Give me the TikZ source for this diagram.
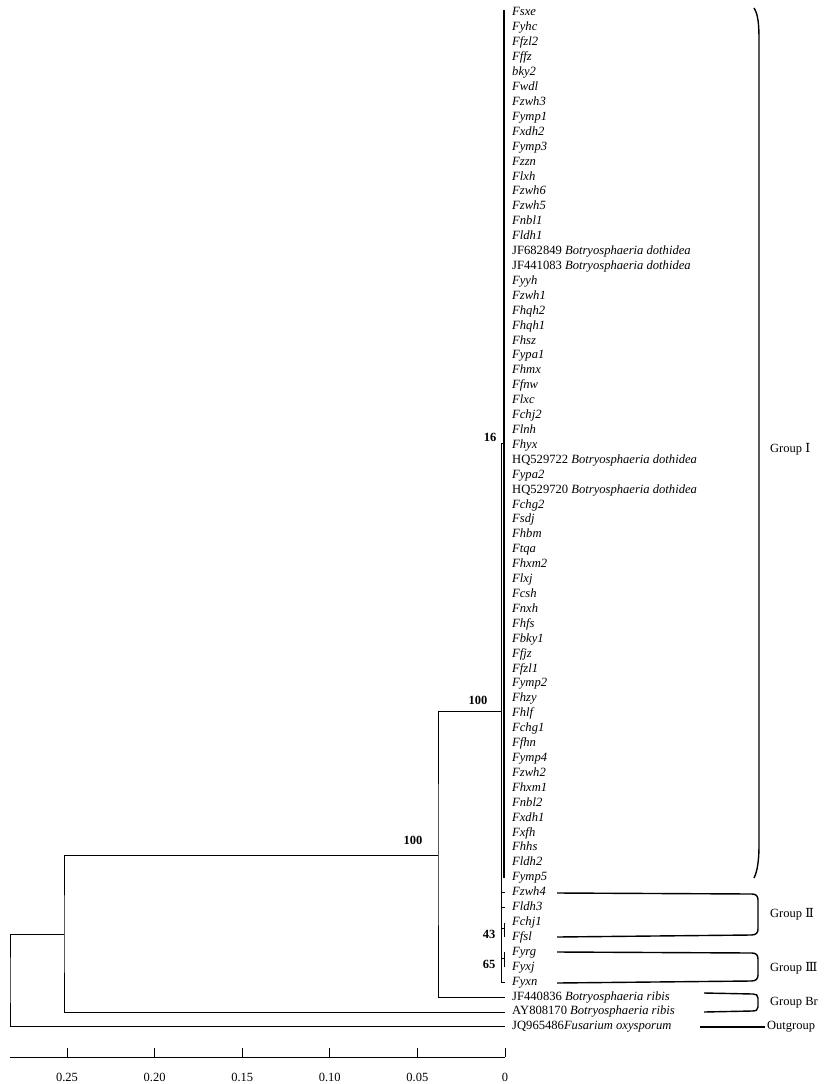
\documentclass[tikz,border=0pt]{standalone}
\usepackage{fontspec}
\setmainfont{Liberation Serif}
\newfontfamily\romfont{DejaVu Serif}
\newcommand\accn[2]{{\upshape #1} #2}
\newcommand\accnn[2]{{\upshape #1}#2}
\begin{document}
\begin{tikzpicture}[x=1pt,y=-1pt,
  taxon/.style={anchor=west,inner sep=0pt,text height=9pt,text depth=3pt,font=\fontsize{12.6}{14}\selectfont\itshape},
  boot/.style={inner sep=0pt,font=\fontsize{12.5}{14}\selectfont\bfseries},
  grplab/.style={anchor=west,inner sep=0pt,font=\fontsize{12.5}{14}\selectfont},
  axlab/.style={inner sep=0pt,font=\fontsize{12.5}{14}\selectfont},
  branch/.style={line width=0.8pt},
  thickbr/.style={line width=1.7pt},
  grp/.style={line width=1.4pt,line join=round}]
\useasboundingbox (0,0) rectangle (830,1084);
% taxa
\foreach \n [count=\i] in {Fsxe,Fyhc,Ffzl2,Fffz,bky2,Fwdl,Fzwh3,Fymp1,Fxdh2,Fymp3,Fzzn,Flxh,Fzwh6,Fzwh5,Fnbl1,Fldh1,
  \accn{JF682849}{Botryosphaeria dothidea},\accn{JF441083}{Botryosphaeria dothidea},
  Fyyh,Fzwh1,Fhqh2,Fhqh1,Fhsz,Fypa1,Fhmx,Ffnw,Flxc,Fchj2,Flnh,Fhyx,
  \accn{HQ529722}{Botryosphaeria dothidea},Fypa2,\accn{HQ529720}{Botryosphaeria dothidea},
  Fchg2,Fsdj,Fhbm,Ftqa,Fhxm2,Flxj,Fcsh,Fnxh,Fhfs,Fbky1,Ffjz,Ffzl1,Fymp2,Fhzy,Fhlf,Fchg1,Ffhn,
  Fymp4,Fzwh2,Fhxm1,Fnbl2,Fxdh1,Fxfh,Fhhs,Fldh2,Fymp5,Fzwh4,Fldh3,Fchj1,Ffsl,Fyrg,Fyxj,Fyxn,
  \accn{JF440836}{Botryosphaeria ribis},\accn{AY808170}{Botryosphaeria ribis},
  \accnn{JQ965486}{Fusarium oxysporum}}
  \node[taxon] (t\i) at (512,{13+(\i-1)*14.91}) {\n};
% internal nodes
\coordinate (root) at (10,980);
\coordinate (nA) at (64,934);
\coordinate (nB) at (438,855);
\coordinate (nC) at (501.5,711);
\coordinate (nG1) at (504,443);
\coordinate (n43) at (504,928.5);
\coordinate (n65) at (504,958.5);
% branches
\draw[branch] ([xshift=-7pt]t69.west) -| (root) |- (nA);
\draw[branch] (nB) -| (nA) |- ([xshift=-7pt]t68.west);
\draw[branch] (nC) -| (nB) |- ([xshift=-7pt]t67.west);
\draw[branch] (nG1) -| (nC) |- ([xshift=-7pt]t66.west);
\draw[thickbr] ([yshift=3pt]t1.west -| nG1) -- (t59.west -| nG1);
\draw[branch] (t60.west -| nC) -- ([xshift=-7pt]t60.west);
\draw[branch] (t61.west -| nC) -- ([xshift=-7pt]t61.west);
\draw[branch] (nC |- n43) -- (n43);
\draw[branch] (t62.west -| n43) -- (t63.west -| n43);
\draw[branch] (nC |- n65) -- (n65);
\draw[branch] (t64.west -| n65) -- (t65.west -| n65);
% bootstrap values
\node[boot] (b16) at (490,437) {16};
\node[boot] (b100a) at (478,700) {100};
\node[boot] (b100b) at (413,840) {100};
\node[boot] (b43) at (489,934) {43};
\node[boot] (b65) at (489,964) {65};
% group brackets
\draw[grp] (754,8) .. controls (758,14) and (759,24) .. (759,40) -- (759,845) .. controls (759,862) and (757,872) .. (754,878);
\draw[grp] (557,893) -- (752,894) .. controls (756,894) and (758,896) .. (758,900) -- (758,929) .. controls (758,933) and (756,935) .. (751,935) -- (557,937);
\draw[grp] (557,952) -- (752,953) .. controls (756,953) and (758,955) .. (758,959) -- (758,975) .. controls (758,979) and (756,981) .. (751,981) -- (557,983);
\draw[grp] (704,993) -- (753,994) .. controls (756,994) and (758,995) .. (758,998) -- (758,1007) .. controls (758,1010) and (756,1011) .. (752,1011) -- (704,1012);
\draw[grp] (700,1027) -- (765,1027);
\node[grplab] (g1) at (770,449) {Group {\romfont Ⅰ}};
\node[grplab] (g2) at (770,914) {Group {\romfont Ⅱ}};
\node[grplab] (g3) at (770,968) {Group {\romfont Ⅲ}};
\node[grplab] (gbr) at (770,1003) {Group Br};
\node[grplab] (gout) at (767,1027) {Outgroup};
% axis
\coordinate (axL) at (10,1057);
\coordinate (ax0) at (505,1057);
\draw[branch] (axL) -- (ax0);
\foreach \lab [count=\k from 0] in {0,0.05,0.10,0.15,0.20,0.25} {
  \coordinate (tk\k) at ({505-\k*87.6},1057);
  \draw[branch] (tk\k) -- ++(0,-9);
  \node[axlab] (al\k) at ({505-\k*87.6},1077) {\lab};
}
\end{tikzpicture}
\end{document}
